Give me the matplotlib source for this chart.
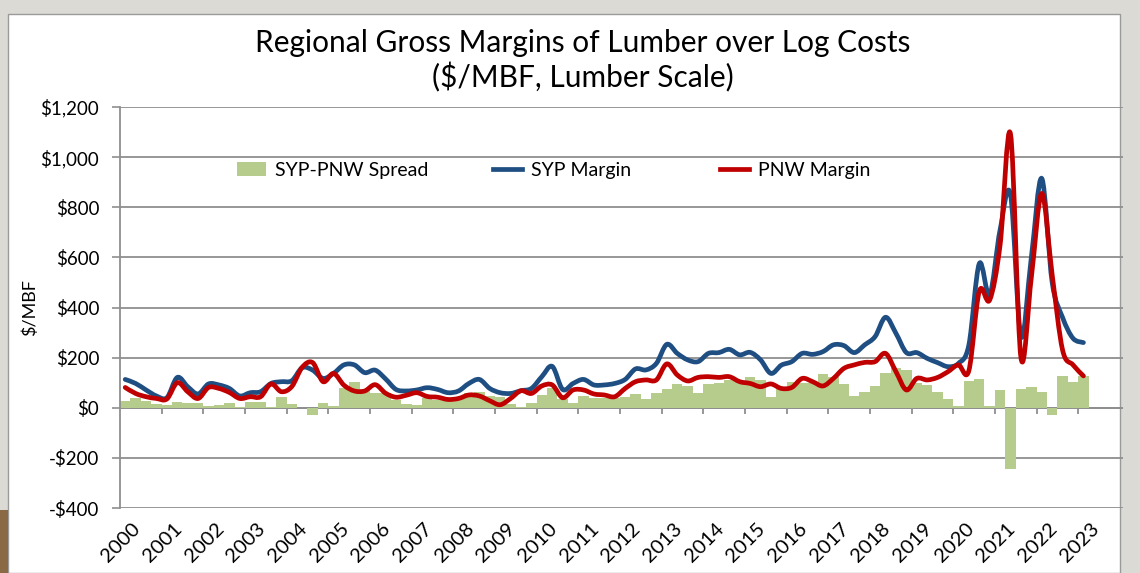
import matplotlib
matplotlib.use("Agg")
import matplotlib.pyplot as plt
from matplotlib.path import Path
from matplotlib.patches import PathPatch, Patch, Rectangle
from matplotlib.lines import Line2D
from matplotlib.legend import Legend
from matplotlib.ticker import FuncFormatter

# quarterly values, 2000 Q1 .. 2023 Q1 ($/MBF)
syp_margin = [113, 97, 71, 47, 40, 121, 84, 55, 95, 91, 77, 47, 60, 64, 97, 104,
              108, 160, 150, 117, 137, 171, 171, 140, 150, 115, 73, 67, 71, 80, 73, 60,
              67, 97, 113, 77, 60, 57, 68, 77, 124, 165, 73, 97, 113, 91, 91, 97,
              113, 155, 151, 177, 253, 217, 191, 184, 217, 220, 233, 211, 221, 191, 137, 170,
              184, 217, 213, 224, 251, 248, 220, 251, 284, 361, 297, 220, 220, 197, 180, 164,
              177, 250, 575, 450, 710, 850, 285, 600, 915, 500, 360, 277, 260]
pnw_margin = [81, 57, 44, 37, 35, 100, 64, 37, 81, 77, 61, 37, 44, 44, 95, 64,
              85, 162, 180, 104, 137, 90, 67, 67, 92, 58, 42, 50, 60, 45, 42, 33,
              37, 51, 47, 28, 12, 37, 68, 57, 87, 91, 40, 71, 71, 55, 51, 44,
              77, 104, 111, 111, 175, 131, 107, 121, 124, 121, 124, 104, 97, 84, 95, 77,
              81, 117, 104, 87, 117, 157, 171, 181, 184, 217, 144, 71, 117, 111, 121, 144,
              171, 148, 465, 430, 650, 1092, 200, 520, 855, 530, 230, 171, 127]
spread = [28, 40, 27, 15, 11, 21, 17, 17, 8, 11, 19, 2, 23, 23, 4, 41,
          15, 0, -29, 20, 7, 80, 104, 73, 60, 57, 31, 15, 11, 37, 31, 27,
          37, 57, 64, 47, 44, 15, 4, 17, 51, 77, 33, 20, 47, 37, 37, 37,
          41, 55, 35, 60, 73, 93, 87, 60, 93, 100, 111, 104, 124, 111, 44, 80,
          104, 97, 97, 135, 124, 95, 47, 64, 87, 140, 157, 151, 100, 91, 64, 33,
          7, 107, 116, 7, 69, -243, 76, 83, 63, -29, 127, 103, 127]
years = list(range(2000, 2024))

BLUE = "#1f4e82"
RED = "#c00000"
GREEN = "#b5cc8c"
GRID = "#8f8f8f"

plt.rcParams["font.family"] = ["Lato", "DejaVu Sans"]


def smooth_patch(ys, color):
    # Excel-style smoothed line (Catmull-Rom as cubic Bezier segments)
    pts = list(enumerate(ys))
    n = len(pts)
    verts = [pts[0]]
    codes = [Path.MOVETO]
    for i in range(n - 1):
        p0 = pts[i - 1] if i > 0 else pts[i]
        p1 = pts[i]
        p2 = pts[i + 1]
        p3 = pts[i + 2] if i + 2 < n else pts[i + 1]
        c1 = (p1[0] + (p2[0] - p0[0]) / 6, p1[1] + (p2[1] - p0[1]) / 6)
        c2 = (p2[0] - (p3[0] - p1[0]) / 6, p2[1] - (p3[1] - p1[1]) / 6)
        verts += [c1, c2, p2]
        codes += [Path.CURVE4] * 3
    return PathPatch(Path(verts, codes), fill=False, edgecolor=color, lw=3.4,
                     capstyle="round", joinstyle="round", zorder=4)


fig = plt.figure(figsize=(11.4, 5.73), dpi=100, facecolor="#dcdad5")
# white slide panel
fig.patches.append(Rectangle((8 / 1140, 0), 1112 / 1140, 1 - 14 / 573,
                             transform=fig.transFigure, facecolor="white",
                             edgecolor="#9a9a9a", lw=1.0, zorder=-10))
fig.patches.append(Rectangle((0, 0), 8 / 1140, 63 / 573, transform=fig.transFigure,
                             facecolor="#8a6a45", edgecolor="none", zorder=-10))

ax = fig.add_axes([120 / 1140, 1 - 508 / 573, 1003 / 1140, 401 / 573])
ax.set_facecolor("none")

q = list(range(len(spread)))
ax.bar(q, spread, width=1.0, color=GREEN, zorder=2)
ax.add_patch(smooth_patch(syp_margin, BLUE))
ax.add_patch(smooth_patch(pnw_margin, RED))

ax.set_xlim(-0.5, 95.8)
ax.set_ylim(-400, 1200)
ax.set_yticks(range(-400, 1201, 200))
ax.yaxis.set_major_formatter(FuncFormatter(
    lambda v, p: ("-$" if v < 0 else "$") + f"{abs(int(v)):,}"))
ax.grid(axis="y", color=GRID, lw=1.3, zorder=1)
ax.axhline(0, color=GRID, lw=1.3, zorder=1)
# category tick marks on the zero line
ax.vlines([4 * k - 0.5 for k in range(1, 24)], -24, 0, color=GRID, lw=1.3, zorder=1)

ax.set_xticks([4 * k + 1.2 for k in range(len(years))])
ax.set_xticklabels([str(y) for y in years], rotation=45, ha="right", va="center",
                   rotation_mode="anchor", fontsize=14.5)
ax.tick_params(axis="x", length=0, pad=13)
ax.tick_params(axis="y", length=6, width=1.2, color=GRID, pad=9, labelsize=13.5)

for s in ["top", "right", "bottom"]:
    ax.spines[s].set_visible(False)
ax.spines["left"].set_color(GRID)
ax.spines["left"].set_linewidth(1.3)

ax.set_ylabel("$/MBF", fontsize=13, labelpad=2)

fig.text(583 / 1140, 1 - 43 / 573, "Regional Gross Margins of Lumber over Log Costs",
         ha="center", va="center", fontsize=21.5)
fig.text(583 / 1140, 1 - 77 / 573, "($/MBF, Lumber Scale)",
         ha="center", va="center", fontsize=21.5)

# legend entries placed one by one (Excel spaces them unevenly)
entries = [(Patch(facecolor=GREEN, edgecolor="none"), "SYP-PNW Spread", 237),
           (Line2D([], [], color=BLUE, lw=3.4), "SYP Margin", 493),
           (Line2D([], [], color=RED, lw=3.4), "PNW Margin", 720)]
for handle, label, xpos in entries:
    leg = Legend(ax, [handle], [label], frameon=False, fontsize=14, loc="center left",
                 bbox_to_anchor=(xpos / 1140, 1 - 170 / 573),
                 bbox_transform=fig.transFigure, borderpad=0, borderaxespad=0,
                 handlelength=1.5, handletextpad=0.45)
    ax.add_artist(leg)

fig.savefig("out.png", dpi=100, facecolor=fig.get_facecolor())
